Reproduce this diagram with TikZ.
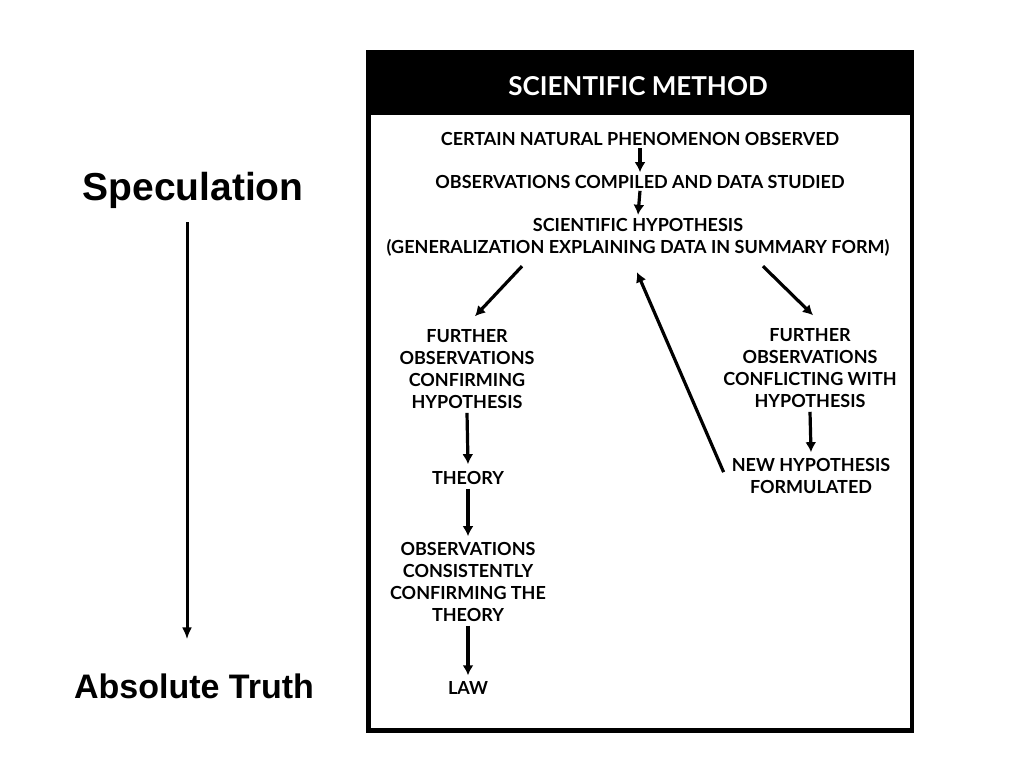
\documentclass[tikz,border=0pt]{standalone}
\usepackage{fontspec}
\setmainfont{Lato}
\setsansfont{Liberation Sans}
\usetikzlibrary{arrows.meta}
\begin{document}
\begin{tikzpicture}[x=1pt,y=-1pt,
    txt/.style={align=center,inner sep=0pt,font=\bfseries\fontsize{18}{22}\selectfont},
    flow/.style={-{Latex[length=10pt,width=11pt]},line width=3.2pt},
    side/.style={inner sep=0pt,font=\sffamily\bfseries\fontsize{39}{42}\selectfont}]
    \useasboundingbox[fill=white] (0,0) rectangle (1024,768);

    % frame
    \fill (366,50) rectangle (914,733);
    \fill[white] (371,115) rectangle (910,728);
    \node[txt,white,font=\bfseries\fontsize{26}{28}\selectfont] (title) at (638,86) {SCIENTIFIC METHOD};

    % main column
    \node[txt] (observed) at (640,139) {CERTAIN NATURAL PHENOMENON OBSERVED};
    \node[txt] (compiled) at (640,182) {OBSERVATIONS COMPILED AND DATA STUDIED};
    \node[txt] (hypo) at (638,237) {SCIENTIFIC HYPOTHESIS\\(GENERALIZATION EXPLAINING DATA IN SUMMARY FORM)};

    % left branch
    \node[txt] (confirm) at (467,369) {FURTHER\\OBSERVATIONS\\CONFIRMING\\HYPOTHESIS};
    \node[txt] (theory) at (468,478) {THEORY};
    \node[txt] (consist) at (468,582) {OBSERVATIONS\\CONSISTENTLY\\CONFIRMING THE\\THEORY};
    \node[txt] (law) at (468,688) {LAW};

    % right branch
    \node[txt] (conflict) at (810,368) {FURTHER\\OBSERVATIONS\\CONFLICTING WITH\\HYPOTHESIS};
    \node[txt] (newhypo) at (811,476) {NEW HYPOTHESIS\\FORMULATED};

    % arrows
    \draw[flow] ([yshift=-2pt]observed.south) -- ([yshift=3pt]compiled.north);
    \draw[flow] ([yshift=-2pt]compiled.south) -- ([yshift=3pt]hypo.north);
    \draw[flow] ([xshift=-116pt,yshift=-10pt]hypo.south) -- ([xshift=8pt,yshift=13pt]confirm.north);
    \draw[flow] ([xshift=125pt,yshift=-10pt]hypo.south) -- ([xshift=3pt,yshift=13pt]conflict.north);
    \draw[flow] ([yshift=-4pt]confirm.south) -- ([yshift=7pt]theory.north);
    \draw[flow] ([yshift=-4pt]theory.south) -- ([yshift=6pt]consist.north);
    \draw[flow] ([yshift=-4pt]consist.south) -- ([yshift=6pt]law.north);
    \draw[flow] ([yshift=-4pt]conflict.south) -- ([yshift=6pt]newhypo.north);
    \draw[flow] ([xshift=-8pt,yshift=-14pt]newhypo.north west) -- ([xshift=-1pt,yshift=-16pt]hypo.south);

    % scale on the left
    \node[side] (spec) at (193,190) {Speculation};
    \node[side,font=\sffamily\bfseries\fontsize{34}{40}\selectfont] (truth) at (194,686) {Absolute Truth};
    \draw[-{Latex[length=12pt,width=10pt]},line width=3pt] ([xshift=-6pt,yshift=-14pt]spec.south) -- ([xshift=-7pt,yshift=34pt]truth.north);
\end{tikzpicture}
\end{document}
